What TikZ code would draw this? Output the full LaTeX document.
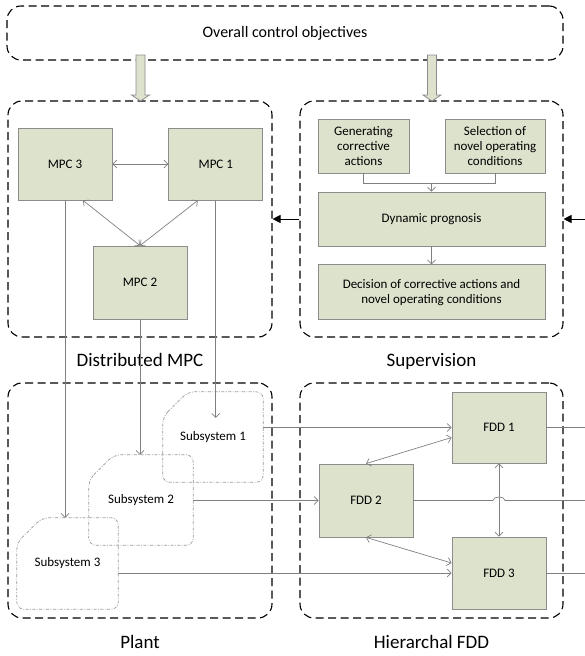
\documentclass[tikz,border=0pt]{standalone}
\usepackage{fontspec}
\setmainfont{Carlito}
\usetikzlibrary{arrows.meta, positioning, calc}

\definecolor{boxgreen}{RGB}{221,226,205}
\definecolor{boxline}{RGB}{140,140,140}
\definecolor{wiregray}{RGB}{128,128,128}

\tikzset{
  group/.style={draw, line width=1.1pt, dash pattern=on 8pt off 4.5pt, rounded corners=14pt, inner sep=0pt},
  block/.style={draw=boxline, fill=boxgreen, line width=0.8pt, inner sep=2pt, align=center, font=\fontsize{13}{15}\selectfont},
  caption/.style={font=\fontsize{19}{22}\selectfont, inner sep=0pt},
  subtext/.style={inner sep=0pt, font=\fontsize{13}{15}\selectfont},
  subline/.style={draw=wiregray!80, line width=0.7pt, dash pattern=on 3pt off 1.5pt on 0.8pt off 1.5pt, rounded corners=7pt},
  wire/.style={draw=wiregray, line width=0.7pt},
  sig/.style={wire, -{Straight Barb[length=4pt,width=8pt]}},
  sigboth/.style={wire, {Straight Barb[length=4pt,width=8pt]}-{Straight Barb[length=4pt,width=8pt]}},
  fb/.style={draw=black, line width=0.7pt, -{Triangle[length=8pt,width=8pt]}},
  bigarrow/.style={draw=boxline, fill=boxgreen, line width=0.8pt},
}

\begin{document}
\begin{tikzpicture}[x=1pt, y=-1pt, node distance=20pt]
    \useasboundingbox (0,0) rectangle (584,656);

    % groups
    \node[group, minimum width=556, minimum height=54, font=\fontsize{16}{19}\selectfont] (objectives) at (285,33) {Overall control objectives};
    \node[group, minimum width=264, minimum height=236] (dmpc) at (140,219) {};
    \node[group, minimum width=263, minimum height=236] (superv) at (431.5,219) {};
    \node[group, minimum width=264, minimum height=235] (plant) at (140,500.5) {};
    \node[group, minimum width=263, minimum height=235] (fdd) at (431.5,500.5) {};

    \node[caption, below=16pt of dmpc] {Distributed MPC};
    \node[caption, below=16pt of superv] {Supervision};
    \node[caption, below=17pt of plant] {Plant};
    \node[caption, below=17pt of fdd] {Hierarchal FDD};

    % thick arrows from the objectives
    \foreach \ax in {140.5, 432} {
        \draw[bigarrow] ({\ax-4.5},55) -- ({\ax-4.5},95) -- ({\ax-9},95) -- (\ax,101)
            -- ({\ax+9},95) -- ({\ax+4.5},95) -- ({\ax+4.5},55) -- cycle;
    }

    % distributed MPC
    \node[block, minimum width=94, minimum height=72] (mpc3) at (65,164) {MPC 3};
    \node[block, minimum width=94, minimum height=72, right=56pt of mpc3] (mpc1) {MPC 1};
    \node[block, minimum width=94, minimum height=73] (mpc2) at (140,282.5) {MPC 2};

    \draw[sigboth] (mpc3) -- (mpc1);
    \draw[sigboth] ([xshift=18pt]mpc3.south) -- (mpc2.north);
    \draw[sigboth] ([xshift=-18pt]mpc1.south) -- (mpc2.north);

    % supervision
    \node[block, minimum width=91, minimum height=54] (gen) at (363.5,146) {Generating\\corrective\\actions};
    \node[block, minimum width=100, minimum height=54] (sel) at (495,146) {Selection of\\novel operating\\conditions};
    \node[block, minimum width=227, minimum height=54] (dyn) at (431.5,219) {Dynamic prognosis};
    \node[block, minimum width=227, minimum height=55, below=18pt of dyn] (dec) {Decision of corrective actions and\\novel operating conditions};

    \draw[wire] (gen.south) -- ++(0,10) coordinate (join) -| (sel.south);
    \draw[sig] (join -| dyn.north) -- (dyn.north);
    \draw[sig] (dyn) -- (dec);

    \coordinate (fromright) at (590,219);
    \draw[fb] (fromright) -- (superv.east |- fromright);
    \draw[fb] (superv.west |- dyn) -- (dmpc.east |- dyn);

    % plant
    \node[subtext, minimum width=100, minimum height=90] (sub1) at (213,437) {Subsystem 1};
    \node[subtext, minimum width=104, minimum height=90] (sub2) at (141,500) {Subsystem 2};
    \node[subtext, minimum width=101, minimum height=91] (sub3) at (67.5,563.5) {Subsystem 3};
    \foreach \s in {sub1, sub2, sub3} {
        \draw[subline] ([yshift=-25pt]\s.north west) -- ([xshift=25pt]\s.north west)
            -- (\s.north east) -- (\s.south east) -- (\s.south west) -- cycle;
    }

    \draw[sig] (mpc3.south) -- (mpc3.south |- sub3.north);
    \draw[sig] (mpc2.south) -- (mpc2.south |- sub2.north);
    \draw[sig] (mpc1.south) -- ($(mpc1.south |- sub1.north)+(0,26)$);

    % hierarchal FDD
    \node[block, minimum width=94, minimum height=71] (fdd1) at (499,427.5) {FDD 1};
    \node[block, minimum width=94, minimum height=73] (fdd2) at (366,500.5) {FDD 2};
    \node[block, minimum width=94, minimum height=72] (fdd3) at (499,573) {FDD 3};

    \draw[sig] (sub1.east |- fdd1.west) -- (fdd1.west);
    \draw[sig] (sub2.east |- fdd2.west) -- (fdd2.west);
    \draw[sig] (sub3.east |- fdd3.west) -- (fdd3.west);

    \draw[sigboth] (fdd2.north) -- ([yshift=-10pt]fdd1.west);
    \draw[sigboth] (fdd2.south) -- ([yshift=10pt]fdd3.west);
    \draw[sigboth] (fdd1) -- (fdd3);

    % outputs leaving to the right
    \coordinate (out1) at (590,427.5);
    \coordinate (out2) at (590,500.5);
    \coordinate (out3) at (590,573);
    \draw[wire] (fdd1.east) -- (out1);
    \draw[wire] (fdd3.east) -- (out3);
    \draw[wire] (fdd2.east) -- ([xshift=-6pt]fdd1.south |- fdd2.east)
        to[out=90, in=90] ([xshift=6pt]fdd1.south |- fdd2.east) -- (out2);
\end{tikzpicture}
\end{document}
